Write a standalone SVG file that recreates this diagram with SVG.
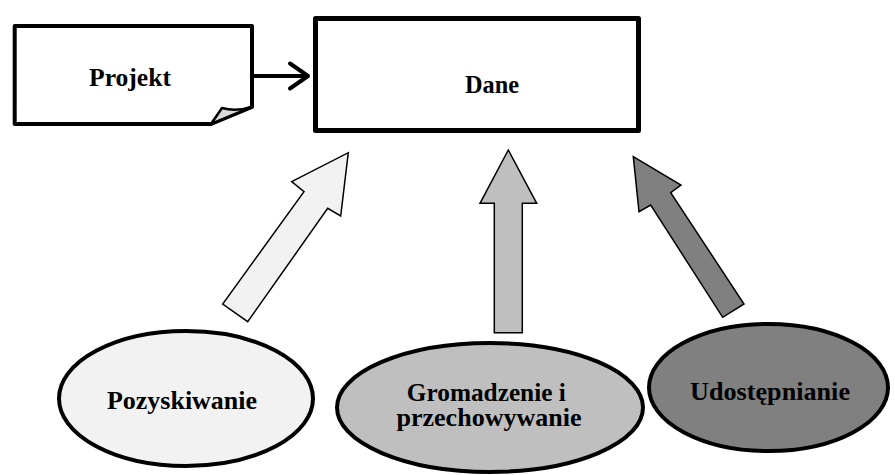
<svg xmlns="http://www.w3.org/2000/svg" width="895" height="475" viewBox="0 0 895 475">
<style>
.lbl{font-family:"Liberation Serif","Times New Roman",serif;font-weight:bold;font-size:25px;fill:#000;text-anchor:middle;}
.box{fill:#fff;stroke:#000;stroke-linejoin:round;}
.ell{stroke:#000;stroke-width:4;}
.blk{stroke:#000;stroke-width:1.5;stroke-linejoin:miter;}
</style>
<rect width="895" height="475" fill="#fff"/>
<g id="connectors">
  <g id="projekt-dane" fill="none" stroke="#000" stroke-width="4" stroke-linecap="round" stroke-linejoin="round">
    <line x1="254" y1="76" x2="307" y2="76"/>
    <polyline points="290,63.5 308,76 290,88.5"/>
  </g>
  <polygon id="arrow-pozyskiwanie" class="blk" fill="#f2f2f2" points="348.3,152.7 340.7,216 327.7,208.3 247.7,321.7 222.7,304 304,191.7 291.7,181.7"/>
  <polygon id="arrow-gromadzenie" class="blk" fill="#bfbfbf" points="508.3,150 536.7,203.3 522.3,203.3 522.3,332.7 494.3,332.7 494.3,203.3 480,203.3"/>
  <polygon id="arrow-udostepnianie" class="blk" fill="#808080" points="633.3,156.7 681,185 670.7,192.7 744,304 722.7,317.3 650.7,205 639,211.7"/>
</g>
<g id="projekt">
  <path class="box" stroke-width="4" d="M14.7,26 H252 V107 L211,124 H14.7 Z"/>
  <path d="M211,124 L222,108 Q236,112 252,107 Z" fill="#d9d9d9" stroke="#000" stroke-width="2.5" stroke-linejoin="round"/>
  <text class="lbl" x="130" y="86" textLength="82" lengthAdjust="spacingAndGlyphs">Projekt</text>
</g>
<g id="dane">
  <rect class="box" stroke-width="5" x="315.5" y="18.5" width="323" height="112"/>
  <text class="lbl" x="492" y="92.5" textLength="54" lengthAdjust="spacingAndGlyphs">Dane</text>
</g>
<g id="pozyskiwanie">
  <ellipse class="ell" fill="#f2f2f2" cx="186" cy="398.5" rx="127" ry="67.5"/>
  <text class="lbl" x="182" y="409" textLength="150" lengthAdjust="spacingAndGlyphs">Pozyskiwanie</text>
</g>
<g id="gromadzenie">
  <ellipse class="ell" fill="#bfbfbf" cx="490" cy="407.5" rx="153" ry="64.5"/>
  <text class="lbl" x="486.3" y="401" textLength="159" lengthAdjust="spacingAndGlyphs">Gromadzenie i</text>
  <text class="lbl" x="489" y="426" textLength="185" lengthAdjust="spacingAndGlyphs">przechowywanie</text>
</g>
<g id="udostepnianie">
  <ellipse class="ell" fill="#808080" cx="768.5" cy="387.5" rx="119.5" ry="63.5"/>
  <text class="lbl" x="770" y="400" textLength="160" lengthAdjust="spacingAndGlyphs">Udostępnianie</text>
</g>
</svg>
